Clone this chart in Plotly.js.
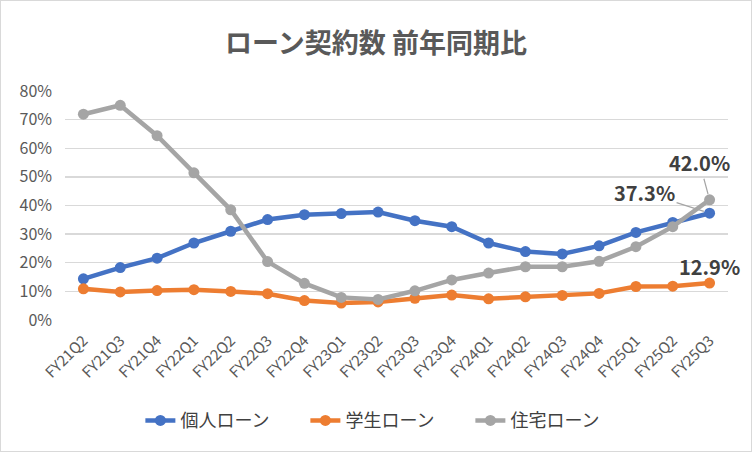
<!DOCTYPE html>
<html>
<head>
<meta charset="utf-8">
<script src="https://cdn.plot.ly/plotly-3.0.1.min.js"></script>
<style>
  body { margin: 0; background: #fff; }
  #chart { width: 750px; height: 450px; border: 1px solid #d9d9d9; }
</style>
</head>
<body>
<div id="chart"></div>
<script>
// quarters
const quarters = ['FY21Q2', 'FY21Q3', 'FY21Q4', 'FY22Q1', 'FY22Q2', 'FY22Q3', 'FY22Q4',
  'FY23Q1', 'FY23Q2', 'FY23Q3', 'FY23Q4', 'FY24Q1', 'FY24Q2', 'FY24Q3', 'FY24Q4',
  'FY25Q1', 'FY25Q2', 'FY25Q3'];

// year-on-year growth, %
const personal = [14.4, 18.3, 21.6, 26.9, 31.0, 35.1, 36.8, 37.2, 37.7, 34.7, 32.6, 26.9,
  23.9, 23.1, 25.9, 30.6, 34.1, 37.3];
const student = [10.9, 9.8, 10.3, 10.6, 10.0, 9.2, 6.8, 5.9, 6.3, 7.6, 8.7, 7.4,
  8.1, 8.6, 9.3, 11.7, 11.8, 12.9];
const housing = [71.9, 75.0, 64.4, 51.4, 38.5, 20.4, 12.8, 7.9, 7.2, 10.2, 14.0, 16.4,
  18.6, 18.6, 20.5, 25.6, 32.6, 42.0];

const names = ['個人ローン', '学生ローン', '住宅ローン'];
const colors = ['#4472C4', '#ED7D31', '#A5A5A5'];

const font = 'Noto Sans CJK JP, sans-serif';

const traces = [personal, student, housing].map((vals, i) => ({
  x: quarters,
  y: vals,
  name: names[i],
  type: 'scatter',
  mode: 'lines+markers',
  line: { color: colors[i], width: 4.5 },
  marker: { color: colors[i], size: 11 },
  hoverinfo: 'x+y'
}));

const last = quarters[quarters.length - 1];
const lbl = (v) => '<b>' + v.toFixed(1) + '%</b>';

const layout = {
  width: 750,
  height: 450,
  margin: { l: 64, r: 23, t: 90, b: 131 },
  paper_bgcolor: '#fff',
  plot_bgcolor: '#fff',
  font: { family: font, color: '#595959' },
  title: {
    text: '<b>ローン契約数 前年同期比</b>',
    font: { size: 27, color: '#595959' },
    x: 0.5, xanchor: 'center', y: 0.905, yanchor: 'middle'
  },
  xaxis: {
    type: 'category',
    range: [-0.5, quarters.length - 0.5],
    tickangle: -45,
    tickfont: { size: 15, color: '#595959' },
    ticklabelstandoff: 8,
    showgrid: false,
    showline: false,
    ticks: ''
  },
  yaxis: {
    range: [0, 80],
    dtick: 10,
    ticksuffix: '%',
    tickfont: { size: 16, color: '#595959' },
    ticklabelstandoff: 12,
    gridcolor: '#d9d9d9',
    gridwidth: 1.3,
    zeroline: false,
    showline: false,
    ticks: ''
  },
  showlegend: true,
  legend: {
    orientation: 'h',
    x: 0.487, xanchor: 'center',
    y: -0.44, yanchor: 'middle',
    font: { size: 18, color: '#404040' },
    itemwidth: 30,
    entrywidth: 120,
    entrywidthmode: 'pixels',
    traceorder: 'normal'
  },
  annotations: [
    {
      x: last, y: housing[housing.length - 1], text: lbl(housing[housing.length - 1]),
      showarrow: true, arrowhead: 0, arrowwidth: 1.2, arrowcolor: '#A5A5A5',
      ax: -10, ay: -37, standoff: 6,
      font: { size: 20, color: '#404040' }
    },
    {
      x: last, y: personal[personal.length - 1], text: lbl(personal[personal.length - 1]),
      showarrow: true, arrowhead: 0, arrowwidth: 1.2, arrowcolor: '#A5A5A5',
      ax: -65, ay: -21, standoff: 6,
      font: { size: 20, color: '#404040' }
    },
    {
      x: last, y: student[student.length - 1], text: lbl(student[student.length - 1]),
      showarrow: false, yshift: 17,
      font: { size: 20, color: '#404040' }
    }
  ]
};

Plotly.newPlot('chart', traces, layout, { displayModeBar: false, staticPlot: true });
</script>
</body>
</html>
